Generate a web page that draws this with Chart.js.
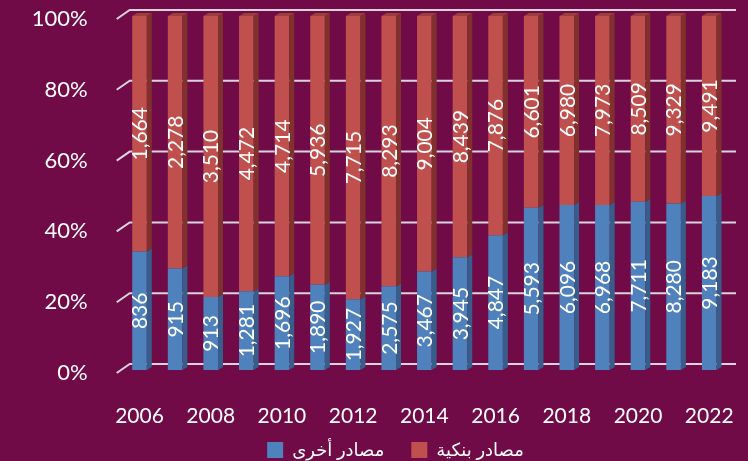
<!DOCTYPE html>
<html lang="ar">
<head>
<meta charset="utf-8">
<script src="https://cdn.jsdelivr.net/npm/chart.js@4.4.0/dist/chart.umd.min.js"></script>
<style>
  html, body { margin: 0; padding: 0; background: #700B48; }
  #caixa { width: 748px; height: 461px; }
</style>
</head>
<body>
<div id="caixa"><canvas id="grafico" width="748" height="461"></canvas></div>
<script>
// anos e valores de cada fonte
const anos = ['2006', '2007', '2008', '2009', '2010', '2011', '2012', '2013', '2014',
              '2015', '2016', '2017', '2018', '2019', '2020', '2021', '2022'];
const outrasFontes    = [836, 915, 913, 1281, 1696, 1890, 1927, 2575, 3467,
                         3945, 4847, 5593, 6096, 6968, 7711, 8280, 9183];
const fontesBancarias = [1664, 2278, 3510, 4472, 4714, 5936, 7715, 8293, 9004,
                         8439, 7876, 6601, 6980, 7973, 8509, 9329, 9491];
const rotuloOutras    = 'مصادر أخرى';
const rotuloBancarias = 'مصادر بنكية';
const ticksY = [0, 20, 40, 60, 80, 100];

const FONTE = "Lato, 'DejaVu Sans', sans-serif";
const PROF_X = 5, PROF_Y = 3;   // profundidade das barras "3d"

// participação de cada fonte no total do ano (barras 100%)
function percentual(lista) {
    return lista.map((v, i) => v / (outrasFontes[i] + fontesBancarias[i]) * 100);
}

function formatarNumero(v) {
    return v.toLocaleString('en-US');
}

// legenda um pouco mais abaixo/à direita e rótulos do eixo x sem corte
const ajusteLayout = {
    id: 'ajusteLayout',
    afterLayout(chart) {
        const leg = chart.legend;
        chart.scales.x.bottom = chart.height;
        leg.top += 8;
        leg.bottom += 8;
        leg.left += 32;
        leg.right += 32;
    }
};

// linhas de grade na parede do fundo, com o traço diagonal do piso
const gradeFundo = {
    id: 'gradeFundo',
    beforeDatasetsDraw(chart) {
        const { ctx, chartArea, scales: { y } } = chart;
        ctx.save();
        ctx.strokeStyle = '#d9d3dd';
        ctx.lineWidth = 2;
        ticksY.forEach(v => {
            const py = y.getPixelForValue(v);
            ctx.beginPath();
            ctx.moveTo(chartArea.left - 5, py + 3);
            ctx.lineTo(chartArea.left + 8, py - 6);
            ctx.lineTo(chartArea.right + 9, py - 6);
            ctx.stroke();
        });
        ctx.restore();
    }
};

// faces laterais / topo e os valores escritos dentro das barras
const barras3d = {
    id: 'barras3d',
    afterDatasetsDraw(chart) {
        const { ctx } = chart;
        const ultimo = chart.data.datasets.length - 1;
        ctx.save();
        chart.data.datasets.forEach((ds, i) => {
            chart.getDatasetMeta(i).data.forEach(bar => {
                const { x, y, base, width } = bar.getProps(['x', 'y', 'base', 'width'], true);
                const xd = x + width / 2, xe = x - width / 2;
                ctx.fillStyle = ds.corLateral;
                ctx.beginPath();
                ctx.moveTo(xd, y);
                ctx.lineTo(xd + PROF_X, y - PROF_Y);
                ctx.lineTo(xd + PROF_X, base - PROF_Y);
                ctx.lineTo(xd, base);
                ctx.closePath();
                ctx.fill();
                if (i === ultimo) {
                    ctx.fillStyle = ds.corTopo;
                    ctx.beginPath();
                    ctx.moveTo(xe, y);
                    ctx.lineTo(xe + PROF_X, y - PROF_Y);
                    ctx.lineTo(xd + PROF_X, y - PROF_Y);
                    ctx.lineTo(xd, y);
                    ctx.closePath();
                    ctx.fill();
                }
            });
        });

        ctx.fillStyle = '#ffffff';
        ctx.font = `21px ${FONTE}`;
        ctx.textAlign = 'center';
        ctx.textBaseline = 'middle';
        chart.data.datasets.forEach((ds, i) => {
            chart.getDatasetMeta(i).data.forEach((bar, j) => {
                const { x, y, base } = bar.getProps(['x', 'y', 'base'], true);
                ctx.save();
                ctx.translate(x + 1, (y + base) / 2);
                ctx.rotate(-Math.PI / 2);
                ctx.fillText(formatarNumero(ds.valores[j]), 0, 0);
                ctx.restore();
            });
        });
        ctx.restore();
    }
};

new Chart(document.getElementById('grafico').getContext('2d'), {
    type: 'bar',
    data: {
        labels: anos,
        datasets: [
            {
                label: rotuloOutras,
                data: percentual(outrasFontes),
                valores: outrasFontes,
                backgroundColor: '#4F81BD',
                corLateral: '#385D8A',
                corTopo: '#3F6797'
            },
            {
                label: rotuloBancarias,
                data: percentual(fontesBancarias),
                valores: fontesBancarias,
                backgroundColor: '#C0504D',
                corLateral: '#80302D',
                corTopo: '#9C3E3B'
            }
        ]
    },
    options: {
        responsive: false,
        animation: false,
        layout: { padding: { top: 16, right: 21, left: 0, bottom: 0 } },
        datasets: { bar: { barPercentage: 0.41, categoryPercentage: 1 } },
        scales: {
            x: {
                stacked: true,
                grid: { display: false },
                border: { display: false },
                ticks: {
                    color: '#ffffff',
                    font: { family: FONTE, size: 21 },
                    padding: 26,
                    autoSkip: false,
                    maxRotation: 0,
                    callback: (v, i) => (i % 2 === 0 ? anos[i] : '')
                },
                afterFit: s => { s.height = 36; s.paddingLeft = 0; s.paddingRight = 0; }
            },
            y: {
                stacked: true,
                min: 0,
                max: 100,
                grid: { display: false, drawTicks: false },
                border: { display: false },
                ticks: {
                    color: '#ffffff',
                    font: { family: FONTE, size: 22 },
                    padding: 34,
                    labelOffset: 3,
                    stepSize: 20,
                    callback: v => v + '%'
                },
                afterFit: s => { s.width = 121.7; s.paddingTop = 0; s.paddingBottom = 0; }
            }
        },
        plugins: {
            legend: {
                position: 'bottom',
                labels: {
                    color: '#ffffff',
                    font: { family: FONTE, size: 18 },
                    boxWidth: 16,
                    boxHeight: 16,
                    padding: 27
                }
            },
            tooltip: { enabled: false }
        }
    },
    plugins: [ajusteLayout, gradeFundo, barras3d]
});
</script>
</body>
</html>
